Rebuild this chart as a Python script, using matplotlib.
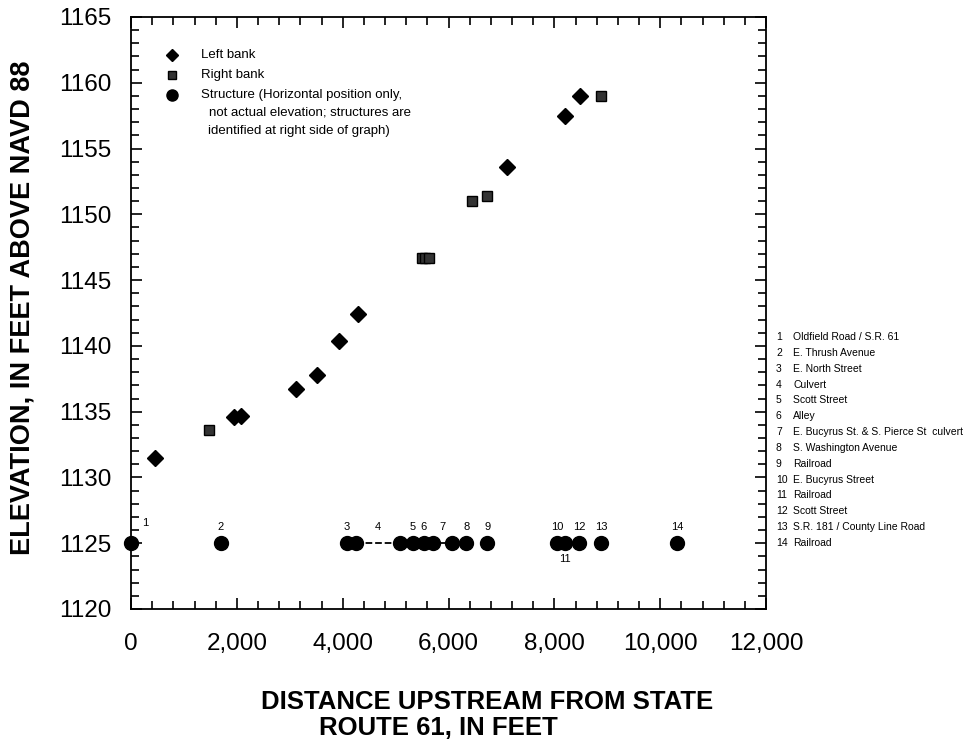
import matplotlib
matplotlib.use('Agg')
import matplotlib.pyplot as plt
from matplotlib.ticker import MultipleLocator, FuncFormatter

# left bank (diamonds)
left_x = [453, 1943, 2075, 3113, 3509, 3925, 4283, 7113, 8208, 8491]
left_y = [1131.5, 1134.6, 1134.7, 1136.7, 1137.8, 1140.4, 1142.4, 1153.6, 1157.5, 1159.0]

# right bank (squares)
right_x = [1472, 5500, 5560, 5640, 6453, 6736, 8887]
right_y = [1133.6, 1146.7, 1146.7, 1146.7, 1151.0, 1151.4, 1159.0]

# structures: horizontal position only, plotted at 1125
struct_ids = ['1', '2', '3', '4', '5', '6', '7', '8', '9', '10', '11', '12', '13', '14']
struct_start = [0, 1698, 4075, 4245, 5321, 5528, 5698, 6340, 6736, 8057, 8208, 8472, 8887, 10321]
struct_end = [0, 1698, 4075, 5075, 5321, 5528, 6057, 6340, 6736, 8057, 8208, 8472, 8887, 10321]
struct_elev = 1125
struct_names = [
    'Oldfield Road / S.R. 61',
    'E. Thrush Avenue',
    'E. North Street',
    'Culvert',
    'Scott Street',
    'Alley',
    'E. Bucyrus St. & S. Pierce St  culvert',
    'S. Washington Avenue',
    'Railroad',
    'E. Bucyrus Street',
    'Railroad',
    'Scott Street',
    'S.R. 181 / County Line Road',
    'Railroad',
]

plt.rcParams['font.family'] = ['Liberation Sans', 'DejaVu Sans']

fig = plt.figure(figsize=(9.76, 7.52), dpi=100)
ax = fig.add_axes([131 / 976, 1 - 609 / 752, 635 / 976, 592 / 752])

# culvert spans
for s, e in zip(struct_start, struct_end):
    if e != s:
        style = '--' if (e - s) > 500 else '-'
        ax.plot([s, e], [struct_elev, struct_elev], color='black', lw=1.3, ls=style, zorder=2)

dots = sorted(set(struct_start + struct_end))
ax.plot(dots, [struct_elev] * len(dots), 'o', color='black', ms=10, zorder=3, clip_on=False)

ax.plot(left_x, left_y, 'D', color='black', ms=8.5, zorder=3)
ax.plot(right_x, right_y, 's', mfc='#333333', mec='black', ms=7.5, zorder=3)

# structure number labels
lab_font = ['Liberation Sans Narrow', 'Liberation Sans', 'DejaVu Sans']
for sid, s, e in zip(struct_ids, struct_start, struct_end):
    xm = (s + e) / 2
    if sid == '1':
        ax.annotate(sid, (xm, struct_elev), xytext=(10, 11), textcoords='offset points',
                    ha='center', va='bottom', fontsize=8, family=lab_font)
    elif sid == '11':
        ax.annotate(sid, (xm, struct_elev), xytext=(0, -8), textcoords='offset points',
                    ha='center', va='top', fontsize=8, family=lab_font)
    else:
        ax.annotate(sid, (xm, struct_elev), xytext=(0, 8), textcoords='offset points',
                    ha='center', va='bottom', fontsize=8, family=lab_font)

ax.set_xlim(0, 12000)
ax.set_ylim(1120, 1165)
ax.xaxis.set_major_locator(MultipleLocator(2000))
ax.xaxis.set_minor_locator(MultipleLocator(400))
ax.yaxis.set_major_locator(MultipleLocator(5))
ax.yaxis.set_minor_locator(MultipleLocator(1))
ax.xaxis.set_major_formatter(FuncFormatter(lambda v, p: f'{int(v):,}'))
ax.tick_params(which='both', direction='in', top=True, right=True, width=1.2)
ax.tick_params(which='major', length=8, labelsize=17.5)
ax.tick_params(axis='y', which='major', pad=14)
ax.tick_params(axis='x', which='major', pad=17)
ax.tick_params(which='minor', length=6)
for sp in ax.spines.values():
    sp.set_linewidth(1.3)

# legend drawn by hand to match the layout
leg_x, txt_x = 0.0646, 0.110
ax.plot([leg_x], [0.936], 'D', color='black', ms=6, transform=ax.transAxes)
ax.plot([leg_x], [0.902], 's', mfc='#333333', mec='black', ms=6, transform=ax.transAxes)
ax.plot([leg_x], [0.868], 'o', color='black', ms=8, transform=ax.transAxes)
ax.text(txt_x, 0.936, 'Left bank', transform=ax.transAxes, fontsize=9.5, va='center')
ax.text(txt_x, 0.902, 'Right bank', transform=ax.transAxes, fontsize=9.5, va='center')
ax.text(txt_x, 0.868, 'Structure (Horizontal position only,', transform=ax.transAxes,
        fontsize=9.5, va='center')
ax.text(txt_x + 0.013, 0.838, 'not actual elevation; structures are', transform=ax.transAxes,
        fontsize=9.5, va='center')
ax.text(txt_x + 0.011, 0.807, 'identified at right side of graph)', transform=ax.transAxes,
        fontsize=9.5, va='center')

# structure key on the right
for i, (sid, name) in enumerate(zip(struct_ids, struct_names)):
    yy = 1 - (337 + i * 15.85) / 752
    fig.text(776 / 976, yy, sid, fontsize=7.5, va='center', ha='left', family=lab_font)
    fig.text(793 / 976, yy, name, fontsize=7.5, va='center', ha='left', family=lab_font)

fig.text(23 / 976, 1 - 308 / 752, 'ELEVATION, IN FEET ABOVE NAVD 88', rotation=90,
         fontsize=19.5, fontweight='bold', ha='center', va='center')
fig.text(487 / 976, 1 - 702 / 752, 'DISTANCE UPSTREAM FROM STATE',
         fontsize=18.5, fontweight='bold', ha='center', va='center')
fig.text(438 / 976, 1 - 728 / 752, 'ROUTE 61, IN FEET',
         fontsize=18.5, fontweight='bold', ha='center', va='center')

fig.savefig('out.png', dpi=100)
